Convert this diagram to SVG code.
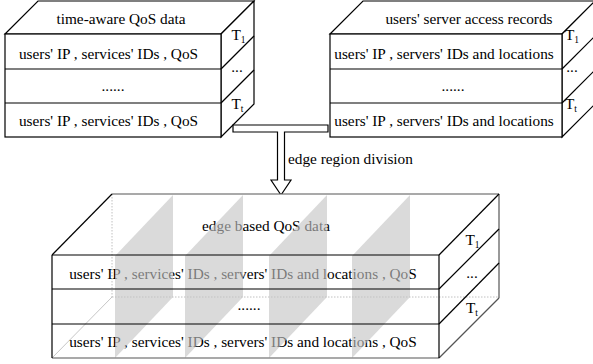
<svg xmlns="http://www.w3.org/2000/svg" width="593" height="364" viewBox="0 0 593 364">
  <style>
    .face { fill: #ffffff; stroke: #000000; stroke-width: 1.2; stroke-linejoin: miter; }
    .ln { fill: none; stroke: #000000; stroke-width: 1.2; }
    .back { fill: none; stroke: #555555; stroke-width: 1.2; }
    .hidden { fill: none; stroke: #b0b0b0; stroke-width: 0.8; stroke-dasharray: 1.5 1.5; }
    .thin { fill: none; stroke: #b8b8b8; stroke-width: 0.8; }
    .slice { fill: #c4c4c4; fill-opacity: 0.62; stroke: none; }
    text { font-family: "Liberation Serif", "Times New Roman", serif; font-size: 15.3px; fill: #000000; }
    .mid { text-anchor: middle; }
    .sub { font-size: 9.5px; }
  </style>

  <!-- stacked table: time-aware QoS data -->
  <g id="qos-table">
    <polygon class="face" points="5,34 38,1 254,1 221,34"/>
    <polygon class="face" points="221,34 254,1 254,104 221,137"/>
    <rect class="face" x="5" y="34" width="216" height="103"/>
    <line class="ln" x1="5" y1="69" x2="221" y2="69"/>
    <line class="ln" x1="5" y1="103" x2="221" y2="103"/>
    <line class="ln" x1="221" y1="69" x2="254" y2="36"/>
    <line class="ln" x1="221" y1="103" x2="254" y2="70"/>
    <text class="mid" x="121" y="23.5">time-aware QoS data</text>
    <text class="mid" x="108.5" y="58.5">users' IP , services' IDs , QoS</text>
    <text class="mid" x="113" y="91">......</text>
    <text class="mid" x="108.5" y="126">users' IP , services' IDs , QoS</text>
    <text x="231.5" y="40">T<tspan class="sub" dy="3">1</tspan></text>
    <text class="mid" x="237" y="72">...</text>
    <text x="231.5" y="109">T<tspan class="sub" dy="3">t</tspan></text>
  </g>

  <!-- stacked table: users' server access records -->
  <g id="access-table">
    <polygon class="face" points="330,34 363,1 595,1 562,34"/>
    <polygon class="face" points="562,34 595,1 595,104 562,137"/>
    <rect class="face" x="330" y="34" width="232" height="103"/>
    <line class="ln" x1="330" y1="69" x2="562" y2="69"/>
    <line class="ln" x1="330" y1="103" x2="562" y2="103"/>
    <line class="ln" x1="562" y1="69" x2="595" y2="36"/>
    <line class="ln" x1="562" y1="103" x2="595" y2="70"/>
    <text class="mid" x="469" y="23.5">users' server access records</text>
    <text class="mid" x="444" y="58.5">users' IP , servers' IDs and locations</text>
    <text class="mid" x="453" y="91">......</text>
    <text class="mid" x="444" y="126">users' IP , servers' IDs and locations</text>
    <text x="565" y="40">T<tspan class="sub" dy="3">1</tspan></text>
    <text class="mid" x="572" y="72">...</text>
    <text x="565" y="109">T<tspan class="sub" dy="3">t</tspan></text>
  </g>

  <!-- merge connector: T-shaped hollow arrow -->
  <g id="connectors">
    <path class="face" d="M233,125 H328 V132 H284.5 V180 H291 L281,195 L271,180 H277.5 V132 H233 Z"/>
    <text x="288" y="164">edge region division</text>
  </g>

  <!-- stacked table: edge based QoS data, cut by edge-region slices -->
  <g id="edge-table">
    <polygon points="52,255 112,194 499,194 439,255" fill="#ffffff"/>
    <polygon points="439,255 499,194 499,298 439,358" fill="#ffffff"/>
    <rect x="52" y="255" width="387" height="103" fill="#ffffff"/>
    <!-- hidden back edges -->
    <line class="hidden" x1="112" y1="194" x2="112" y2="297"/>
    <line class="hidden" x1="112" y1="297" x2="499" y2="297"/>
    <line class="thin" x1="52" y1="358" x2="112" y2="297"/>
    <text class="mid" x="266" y="231">edge based QoS data</text>
    <text class="mid" x="243" y="278.5">users' IP , services' IDs , servers' IDs and locations , QoS</text>
    <text class="mid" x="249" y="310">......</text>
    <text class="mid" x="243" y="347">users' IP , services' IDs , servers' IDs and locations , QoS</text>
    <!-- region slices -->
    <polygon class="slice" points="115,256 173,195 173,297 115,358"/>
    <polygon class="slice" points="185,256 243,195 243,297 185,358"/>
    <polygon class="slice" points="269,256 327,195 327,297 269,358"/>
    <polygon class="slice" points="352,256 410,195 410,297 352,358"/>
    <!-- outline -->
    <line class="back" x1="112" y1="194" x2="499" y2="194"/>
    <line class="ln" x1="52" y1="255" x2="112" y2="194"/>
    <line class="back" x1="499" y1="194" x2="499" y2="298"/>
    <line class="ln" x1="439" y1="255" x2="499" y2="194"/>
    <line class="ln" x1="439" y1="289" x2="499" y2="229"/>
    <line class="ln" x1="439" y1="324" x2="499" y2="263"/>
    <line class="back" x1="439" y1="358" x2="499" y2="298"/>
    <line class="ln" x1="52" y1="255" x2="439" y2="255"/>
    <line class="ln" x1="52" y1="289" x2="439" y2="289"/>
    <line class="ln" x1="52" y1="324" x2="439" y2="324"/>
    <line class="back" x1="52" y1="358" x2="439" y2="358"/>
    <line class="ln" x1="52" y1="255" x2="52" y2="358"/>
    <line class="ln" x1="439" y1="255" x2="439" y2="358"/>
    <text x="465.5" y="245">T<tspan class="sub" dy="3">1</tspan></text>
    <text class="mid" x="472" y="278">...</text>
    <text x="466" y="313">T<tspan class="sub" dy="3">t</tspan></text>
  </g>
</svg>
